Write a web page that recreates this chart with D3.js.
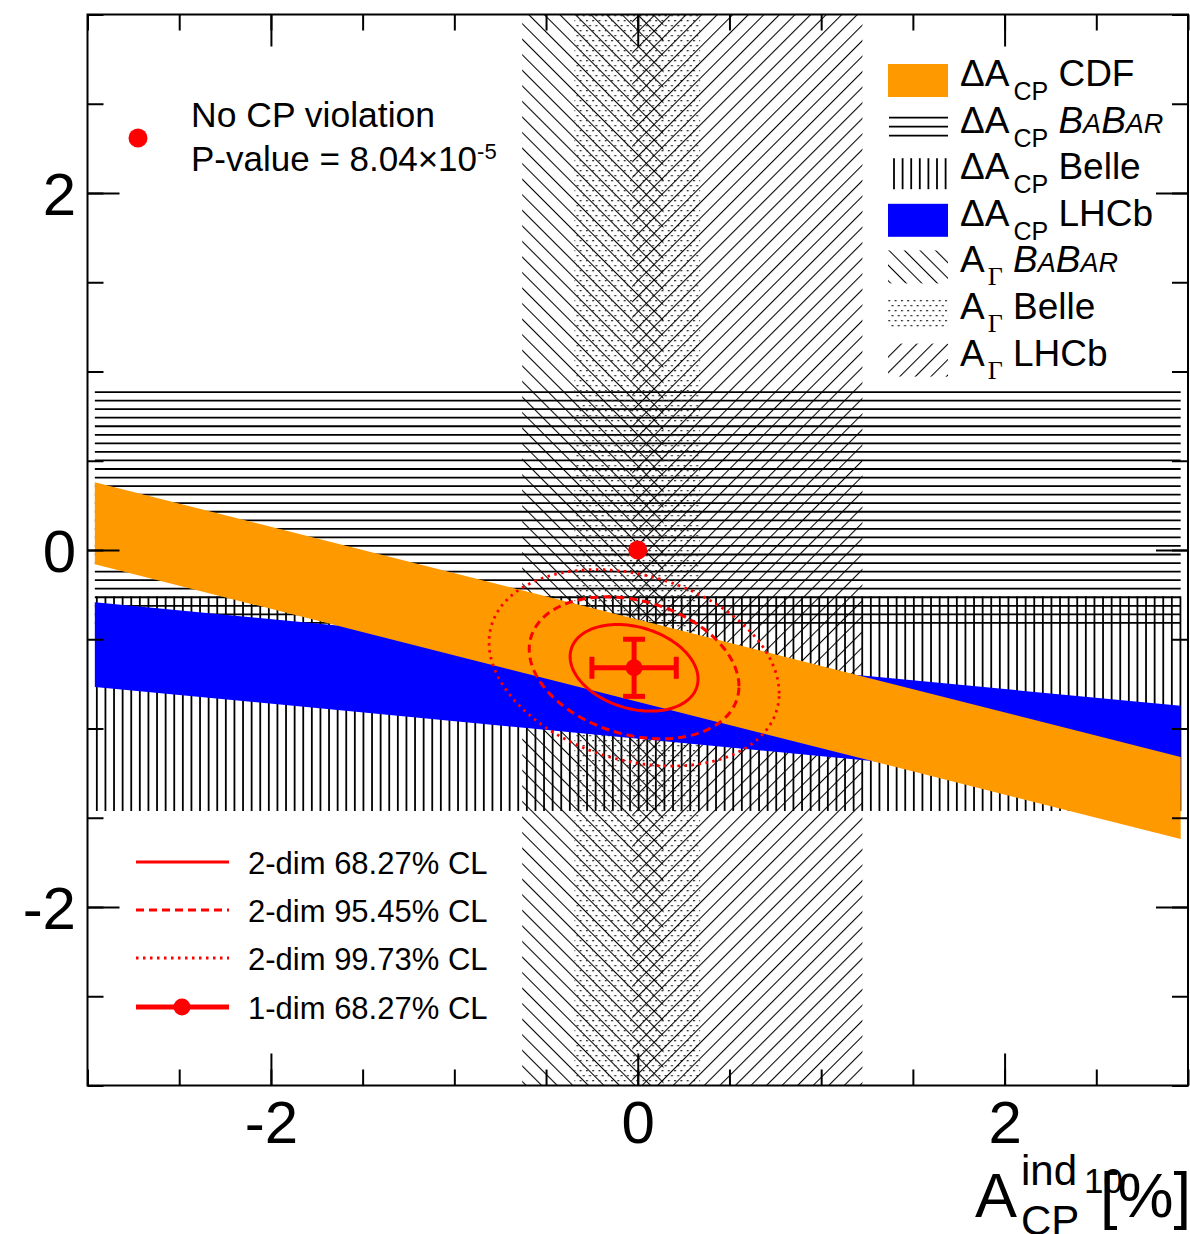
<!DOCTYPE html>
<html>
<head>
<meta charset="utf-8">
<script src="https://cdn.jsdelivr.net/npm/d3@7"></script>
<style>
body { margin: 0; background: #fff; }
svg { display: block; font-family: "Liberation Sans", Arial, Helvetica, sans-serif; }
</style>
</head>
<body>
<svg id="chart" width="1190" height="1234"></svg>
<script>
// measurements, all in %
var deltaAcpBabar = [-0.41, 0.885];    // horizontal hatching
var deltaAcpBelle = [-1.462, -0.26];   // vertical hatching
var agammaBabar = [-0.63, 0.14];       // "\" hatching
var agammaBelle = [-0.345, 0.34];      // dots
var agammaLhcb = [-0.03, 1.225];       // "/" hatching

// sloped dA_CP bands: value at A_ind = 0, slope, half width
var slopedNames = ["LHCb", "CDF"];
var slopedOffsets = [-0.82, -0.62];
var slopedSlopes = [-0.098, -0.26];
var slopedHalfWidths = [0.237, 0.23];
var slopedColors = ["#0000ff", "#ff9900"];
var bandXRange = [-2.96, 2.96];

// combined fit
var fitCenter = [-0.02, -0.66];
var fitSigma = [0.23, 0.16];
var fitRho = -0.26;
var contourChi2 = [2.30, 6.18, 11.83];
var contourDash = [null, "8,5", "2.5,4.5"];
var contourLabels = ["2-dim 68.27% CL", "2-dim 95.45% CL", "2-dim 99.73% CL", "1-dim 68.27% CL"];

var noCPV = [0, 0];

var majorTicks = [-2, 0, 2];
var minorTicks = d3.range(-3, 3.01, 0.5);

var svg = d3.select("#chart");
var x = d3.scaleLinear().domain([-3, 3]).range([87.5, 1188]);
var y = d3.scaleLinear().domain([-3, 3]).range([1085.5, 14.5]);
var red = "#ff0000";

var defs = svg.append("defs");
defs.append("clipPath").attr("id", "plotclip").append("rect")
    .attr("x", x(-3)).attr("y", y(3))
    .attr("width", x(3) - x(-3)).attr("height", y(-3) - y(3));

function hatch(id, angle) {
    var p = defs.append("pattern").attr("id", id)
        .attr("patternUnits", "userSpaceOnUse")
        .attr("width", 11).attr("height", 11)
        .attr("patternTransform", "rotate(" + angle + ")");
    p.append("line").attr("x1", 0.5).attr("x2", 0.5).attr("y1", 0).attr("y2", 11)
        .attr("stroke", "#000").attr("stroke-width", 1.1);
}
hatch("hatchBack", -45);
hatch("hatchFwd", 45);

var dots = defs.append("pattern").attr("id", "dots")
    .attr("patternUnits", "userSpaceOnUse")
    .attr("width", 6.3).attr("height", 10);
dots.selectAll("rect").data([[0, 0], [3.15, 5]]).enter().append("rect")
    .attr("x", function (d) { return d[0]; }).attr("y", function (d) { return d[1]; })
    .attr("width", 2).attr("height", 1.3).attr("fill", "#333");

var plot = svg.append("g").attr("clip-path", "url(#plotclip)");

// dA_CP BaBar: horizontal lines
plot.append("g").selectAll("line")
    .data(d3.range(y(deltaAcpBabar[1]), y(deltaAcpBabar[0]) + 0.5, 8.55))
    .enter().append("line")
    .attr("x1", x(bandXRange[0])).attr("x2", x(bandXRange[1]))
    .attr("y1", function (d) { return d; }).attr("y2", function (d) { return d; })
    .attr("stroke", "#000").attr("stroke-width", 1.8);

// dA_CP Belle: vertical lines
plot.append("g").selectAll("line")
    .data(d3.range(x(bandXRange[0]) + 2, x(bandXRange[1]), 8.6))
    .enter().append("line")
    .attr("x1", function (d) { return d; }).attr("x2", function (d) { return d; })
    .attr("y1", y(deltaAcpBelle[1])).attr("y2", y(deltaAcpBelle[0]))
    .attr("stroke", "#000").attr("stroke-width", 1.8);

// A_Gamma bands
var gammaBands = [[agammaBabar, "url(#hatchBack)"], [agammaBelle, "url(#dots)"], [agammaLhcb, "url(#hatchFwd)"]];
plot.append("g").selectAll("rect").data(gammaBands).enter().append("rect")
    .attr("x", function (d) { return x(d[0][0]); })
    .attr("width", function (d) { return x(d[0][1]) - x(d[0][0]); })
    .attr("y", y(3)).attr("height", y(-3) - y(3))
    .attr("fill", function (d) { return d[1]; });

// sloped bands, LHCb first so CDF lies on top
var area = d3.area()
    .x(function (d) { return x(d.x); })
    .y0(function (d) { return y(d.lo); })
    .y1(function (d) { return y(d.hi); });
slopedNames.forEach(function (name, i) {
    var pts = bandXRange.map(function (v) {
        var c = slopedOffsets[i] + slopedSlopes[i] * v;
        return { x: v, lo: c - slopedHalfWidths[i], hi: c + slopedHalfWidths[i] };
    });
    plot.append("path").datum(pts).attr("d", area).attr("fill", slopedColors[i]);
});

// fit contours
function contour(chi2) {
    var k = Math.sqrt(chi2);
    return d3.range(0, 360, 3).map(function (deg) {
        var t = deg * Math.PI / 180;
        return [fitCenter[0] + k * fitSigma[0] * Math.cos(t),
                fitCenter[1] + k * fitSigma[1] * (fitRho * Math.cos(t) + Math.sqrt(1 - fitRho * fitRho) * Math.sin(t))];
    });
}
var ell = d3.line().x(function (d) { return x(d[0]); }).y(function (d) { return y(d[1]); })
    .curve(d3.curveLinearClosed);
contourChi2.forEach(function (c, i) {
    plot.append("path").datum(contour(c)).attr("d", ell)
        .attr("fill", "none").attr("stroke", red)
        .attr("stroke-width", i == 2 ? 2.8 : 3)
        .attr("stroke-dasharray", contourDash[i]);
});

// 1-dim errors
var cx = x(fitCenter[0]), cy = y(fitCenter[1]);
var eb = plot.append("g").attr("stroke", red).attr("stroke-width", 5);
eb.append("line").attr("x1", x(fitCenter[0] - fitSigma[0])).attr("x2", x(fitCenter[0] + fitSigma[0]))
    .attr("y1", cy).attr("y2", cy);
eb.append("line").attr("y1", y(fitCenter[1] - fitSigma[1])).attr("y2", y(fitCenter[1] + fitSigma[1]))
    .attr("x1", cx).attr("x2", cx);
[-1, 1].forEach(function (s) {
    var ex = x(fitCenter[0] + s * fitSigma[0]), ey = y(fitCenter[1] + s * fitSigma[1]);
    eb.append("line").attr("x1", ex).attr("x2", ex).attr("y1", cy - 11).attr("y2", cy + 11);
    eb.append("line").attr("x1", cx - 11).attr("x2", cx + 11).attr("y1", ey).attr("y2", ey);
});
plot.append("circle").attr("cx", cx).attr("cy", cy).attr("r", 8.5).attr("fill", red);

// no CP violation point
plot.append("circle").attr("cx", x(noCPV[0])).attr("cy", y(noCPV[1])).attr("r", 9.5).attr("fill", red);

// axes with ticks on all four sides
function fmt(d) { return d < 0 ? "-" + Math.abs(d) : String(d); }
var H = y(-3), W = x(3);
function axisPair(gen, tr, labels) {
    var gMinor = svg.append("g").attr("transform", tr)
        .call(gen(minorTicks).tickSize(-16).tickFormat(""));
    var gMajor = svg.append("g").attr("transform", tr)
        .call(gen(majorTicks).tickSize(-32).tickFormat(labels ? fmt : ""));
    [gMinor, gMajor].forEach(function (g) {
        g.select(".domain").remove();
        g.selectAll("line").attr("stroke", "#000").attr("stroke-width", 2);
    });
    return gMajor;
}
var gx = axisPair(function (v) { return d3.axisBottom(x).tickValues(v); }, "translate(0," + H + ")", true);
gx.selectAll("text").attr("font-size", 60).attr("font-family", null).attr("fill", "#000")
    .attr("y", 57.5).attr("dy", null);
axisPair(function (v) { return d3.axisTop(x).tickValues(v); }, "translate(0," + y(3) + ")", false);
var gy = axisPair(function (v) { return d3.axisLeft(y).tickValues(v); }, "translate(" + x(-3) + ",0)", true);
gy.selectAll("text").attr("font-size", 60).attr("font-family", null).attr("fill", "#000")
    .attr("x", -11.5).attr("dy", "0.36em");
axisPair(function (v) { return d3.axisRight(y).tickValues(v); }, "translate(" + W + ",0)", false);

svg.append("rect").attr("x", x(-3)).attr("y", y(3))
    .attr("width", x(3) - x(-3)).attr("height", y(-3) - y(3))
    .attr("fill", "none").attr("stroke", "#000").attr("stroke-width", 2);

// axis title
var title = svg.append("g").attr("fill", "#000");
title.append("text").attr("x", 975).attr("y", 1217).attr("font-size", 63).text("A");
title.append("text").attr("x", 1021).attr("y", 1185).attr("font-size", 42).text("ind");
title.append("text").attr("x", 1021).attr("y", 1235).attr("font-size", 42).text("CP");
title.append("text").attr("x", 1084).attr("y", 1193).attr("font-size", 35).text("10");
title.append("text").attr("x", 1100).attr("y", 1217).attr("font-size", 63).text("[%]");

// top-left legend
svg.append("circle").attr("cx", 138).attr("cy", 138).attr("r", 9.5).attr("fill", red);
svg.append("text").attr("x", 191).attr("y", 127).attr("font-size", 35.5).text("No CP violation");
var pv = svg.append("text").attr("x", 191).attr("y", 171).attr("font-size", 35);
pv.append("tspan").text("P-value = 8.04\u00d710");
pv.append("tspan").attr("font-size", 22).attr("dy", -12).text("-5");

// right legend
var lx = 888, lw = 60, tx = 960;
var rowY = d3.range(7).map(function (i) { return 86 + i * 46.6; });
var leg = svg.append("g");
function swatchRect(i, fill) {
    leg.append("rect").attr("x", lx).attr("y", rowY[i] - 22).attr("width", lw).attr("height", 33).attr("fill", fill);
}
swatchRect(0, slopedColors[1]);
leg.append("g").selectAll("line").data([-15, -6, 3]).enter().append("line")
    .attr("x1", lx + 1).attr("x2", lx + lw)
    .attr("y1", function (d) { return rowY[1] + d; }).attr("y2", function (d) { return rowY[1] + d; })
    .attr("stroke", "#000").attr("stroke-width", 1.8);
leg.append("g").selectAll("line").data(d3.range(7)).enter().append("line")
    .attr("x1", function (d) { return lx + 6 + d * 8.6; }).attr("x2", function (d) { return lx + 6 + d * 8.6; })
    .attr("y1", rowY[2] - 21).attr("y2", rowY[2] + 10)
    .attr("stroke", "#000").attr("stroke-width", 1.8);
swatchRect(3, slopedColors[0]);
swatchRect(4, "url(#hatchBack)");
swatchRect(5, "url(#dots)");
swatchRect(6, "url(#hatchFwd)");

function babar(t) {
    t.append("tspan").attr("font-style", "italic").text("B");
    t.append("tspan").attr("font-style", "italic").attr("font-size", 27).text("A");
    t.append("tspan").attr("font-style", "italic").text("B");
    t.append("tspan").attr("font-style", "italic").attr("font-size", 27).text("AR");
}
var expNames = ["CDF", babar, "Belle", "LHCb", babar, "Belle", "LHCb"];
expNames.forEach(function (name, i) {
    var t = leg.append("text").attr("x", tx).attr("y", rowY[i]).attr("font-size", 37);
    if (i < 4) {
        t.append("tspan").text("\u0394A");
        t.append("tspan").attr("font-size", 25).attr("dx", 4).attr("dy", 14).text("CP");
    } else {
        t.append("tspan").text("A");
        t.append("tspan").attr("font-size", 26).attr("font-family", "Liberation Serif, Times New Roman, serif")
            .attr("dx", 3).attr("dy", 13).text("\u0393");
    }
    t.append("tspan").attr("dy", i < 4 ? -14 : -13).text("\u00a0");
    if (typeof name === "string") t.append("tspan").text(name);
    else name(t);
});

// bottom-left legend
var bl = svg.append("g");
var blY = [862, 910, 958, 1007];
blY.forEach(function (yy, i) {
    var l = bl.append("line").attr("x1", 136).attr("x2", 229).attr("y1", yy).attr("y2", yy)
        .attr("stroke", red);
    if (i < 3) l.attr("stroke-width", i == 2 ? 2.8 : 3).attr("stroke-dasharray", contourDash[i]);
    else {
        l.attr("stroke-width", 5);
        bl.append("circle").attr("cx", 182).attr("cy", yy).attr("r", 8.5).attr("fill", red);
    }
    bl.append("text").attr("x", 248).attr("y", yy + 12).attr("font-size", 31).text(contourLabels[i]);
});
</script>
</body>
</html>
